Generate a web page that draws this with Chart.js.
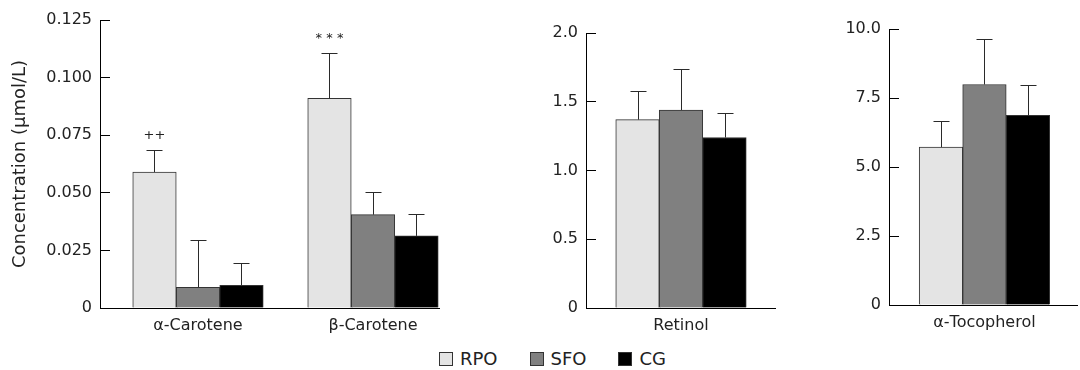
<!DOCTYPE html>
<html>
<head>
<meta charset="utf-8">
<script src="https://cdn.jsdelivr.net/npm/chart.js@4.4.1/dist/chart.umd.min.js"></script>
<style>
  body { margin: 0; background: #fff; width: 1080px; height: 370px; position: relative; overflow: hidden;
         font-family: 'DejaVu Sans', sans-serif; color: #222; }
  canvas { position: absolute; top: 0; }
  #legend { position: absolute; left: 439px; top: 348px; display: flex; gap: 32px; font-size: 18px; line-height: 22px; }
  #legend span.item { display: flex; align-items: center; }
  #legend i { display: inline-block; width: 12px; height: 12px; border: 1px solid #333; margin-right: 7px; }
</style>
</head>
<body>
<canvas id="carotene" width="440" height="345" style="left:0"></canvas>
<canvas id="retinol" width="276" height="345" style="left:500px"></canvas>
<canvas id="toco" width="278" height="345" style="left:800px"></canvas>
<div id="legend"></div>
<script>
// groups
const groups = ['RPO', 'SFO', 'CG'];
const groupColors = ['#e4e4e4', '#808080', '#000000'];

// carotenes (µmol/L)
const caroteneCats = ['α-Carotene', 'β-Carotene'];
const caroteneRPO = [0.059, 0.091];
const caroteneSFO = [0.009, 0.0405];
const caroteneCG = [0.0098, 0.0313];
const caroteneRPOsd = [0.0094, 0.0197];
const caroteneSFOsd = [0.0204, 0.0100];
const caroteneCGsd = [0.0099, 0.0097];
const caroteneMarks = ['++', '* * *'];
const caroteneTicks = [0, 0.025, 0.05, 0.075, 0.1, 0.125];

// retinol
const retinolCats = ['Retinol'];
const retinolRPO = [1.37];
const retinolSFO = [1.44];
const retinolCG = [1.24];
const retinolRPOsd = [0.21];
const retinolSFOsd = [0.30];
const retinolCGsd = [0.18];
const retinolTicks = [0, 0.5, 1.0, 1.5, 2.0];

// alpha-tocopherol
const tocoCats = ['α-Tocopherol'];
const tocoRPO = [5.72];
const tocoSFO = [7.99];
const tocoCG = [6.87];
const tocoRPOsd = [0.95];
const tocoSFOsd = [1.66];
const tocoCGsd = [1.11];
const tocoTicks = [0, 2.5, 5.0, 7.5, 10.0];

const FONT = "'DejaVu Sans', sans-serif";
const TEXT = '#222';

// error bars (upper only) + significance marks above RPO bars
const errorBars = {
  id: 'errorBars',
  afterDatasetsDraw(chart) {
    const { ctx } = chart;
    const y = chart.scales.y;
    ctx.save();
    ctx.strokeStyle = '#2a2a2a';
    ctx.lineWidth = 1;
    chart.data.datasets.forEach((ds, di) => {
      chart.getDatasetMeta(di).data.forEach((bar, i) => {
        const top = Math.round(y.getPixelForValue(ds.data[i].y + ds.sd[i])) + 0.5;
        const x = Math.round(bar.x) + 0.5;
        ctx.beginPath();
        ctx.moveTo(x, bar.y);
        ctx.lineTo(x, top);
        ctx.moveTo(x - 8, top);
        ctx.lineTo(x + 8, top);
        ctx.stroke();
        if (ds.marks && ds.marks[i]) {
          ctx.fillStyle = TEXT;
          ctx.font = `13px ${FONT}`;
          ctx.textAlign = 'center';
          ctx.textBaseline = 'middle';
          ctx.fillText(ds.marks[i], x, top - 15);
        }
      });
    });
    ctx.restore();
  }
};

function makePanel(id, cats, values, sds, marks, yTicks, dec, cfg) {
  const datasets = groups.map((g, gi) => ({
    label: g,
    data: cats.map((c, i) => ({ x: i, y: values[gi][i] })),
    sd: sds[gi],
    marks: gi === 0 ? marks : null,
    backgroundColor: groupColors[gi],
    borderColor: '#333',
    borderWidth: 1,
    borderSkipped: 'bottom',
    barThickness: 43.5,
  }));

  return new Chart(document.getElementById(id), {
    type: 'bar',
    data: { datasets },
    plugins: [errorBars],
    options: {
      responsive: false,
      animation: false,
      layout: { padding: { top: cfg.top, left: 0, right: 0, bottom: 0 } },
      plugins: { legend: { display: false }, tooltip: { enabled: false } },
      scales: {
        x: {
          type: 'linear',
          offset: false,
          min: cfg.xMin,
          max: cfg.xMax,
          afterBuildTicks: s => { s.ticks = cats.map((c, i) => ({ value: i })); },
          afterFit: s => { s.height = cfg.xHeight; s.paddingLeft = 0; s.paddingRight = 0; },
          grid: { offset: false, drawOnChartArea: false, drawTicks: false },
          border: { color: '#000', width: 1 },
          ticks: {
            autoSkip: false,
            maxRotation: 0,
            padding: 8,
            color: TEXT,
            font: { family: FONT, size: 16 },
            callback: v => cats[v],
          },
        },
        y: {
          min: yTicks[0],
          max: yTicks[yTicks.length - 1],
          afterBuildTicks: s => { s.ticks = yTicks.map(v => ({ value: v })); },
          afterFit: s => { s.width = cfg.yWidth; s.paddingTop = 0; s.paddingBottom = 0; },
          grid: { drawOnChartArea: false, tickLength: -10, color: '#000' },
          border: { color: '#000', width: 1 },
          ticks: {
            padding: 18,
            color: TEXT,
            font: { family: FONT, size: 16 },
            callback: v => (v === 0 ? '0' : v.toFixed(dec)),
          },
          title: {
            display: !!cfg.title,
            text: cfg.title || '',
            color: TEXT,
            font: { family: FONT, size: 18 },
            padding: { top: 10, bottom: 0 },
          },
        },
      },
    },
  });
}

makePanel('carotene', caroteneCats,
  [caroteneRPO, caroteneSFO, caroteneCG],
  [caroteneRPOsd, caroteneSFOsd, caroteneCGsd],
  caroteneMarks, caroteneTicks, 3,
  { top: 20, xHeight: 37, yWidth: 100, xMin: -0.56, xMax: 1.383, title: 'Concentration (μmol/L)' });

makePanel('retinol', retinolCats,
  [retinolRPO, retinolSFO, retinolCG],
  [retinolRPOsd, retinolSFOsd, retinolCGsd],
  null, retinolTicks, 1,
  { top: 33, xHeight: 37, yWidth: 86, xMin: -0.5, xMax: 0.5 });

makePanel('toco', tocoCats,
  [tocoRPO, tocoSFO, tocoCG],
  [tocoRPOsd, tocoSFOsd, tocoCGsd],
  null, tocoTicks, 1,
  { top: 29, xHeight: 40, yWidth: 89, xMin: -0.505, xMax: 0.495 });

// legend
const legend = document.getElementById('legend');
groups.forEach((g, gi) => {
  const item = document.createElement('span');
  item.className = 'item';
  item.innerHTML = `<i style="background:${groupColors[gi]}"></i>${g}`;
  legend.appendChild(item);
});
</script>
</body>
</html>
